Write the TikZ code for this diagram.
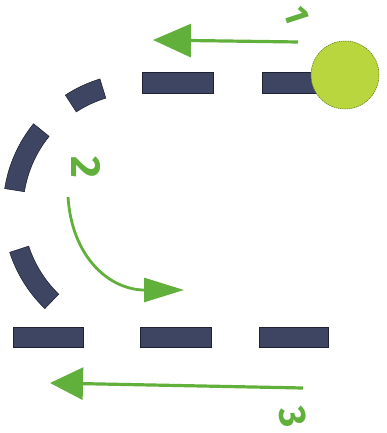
\documentclass[tikz,border=0pt]{standalone}
\usepackage{fontspec}
\setsansfont{Fira Sans}
\usetikzlibrary{arrows.meta}
\definecolor{track}{HTML}{3E4563}
\definecolor{trackedge}{HTML}{1E2233}
\definecolor{pen}{HTML}{62B03C}
\definecolor{ballfill}{HTML}{B9D63E}
\definecolor{balledge}{HTML}{5E7A1E}
\begin{document}
\begin{tikzpicture}[x=0.05cm,y=0.05cm,
  dashbar/.style={fill=track,draw=trackedge,line width=0.8pt},
  penarrow/.style={draw=pen,line width=0.16cm},
  numlabel/.style={text=pen,font=\sffamily\bfseries\fontsize{60}{60}\selectfont,inner sep=0pt}]
\useasboundingbox (0,0) rectangle (386,433);
% straight track pieces
\path[dashbar] (142,340) rectangle (213,361);
\path[dashbar] (262,340) rectangle (330,361);
\path[dashbar] (13,86) rectangle (83,106);
\path[dashbar] (140,86) rectangle (211,106);
\path[dashbar] (259,86) rectangle (328,106);
% curved track pieces
\begin{scope}[shift={(140,223)}]
  \foreach \a/\b in {107/123,141/171,198/226}{
    \path[dashbar] (\a:137) arc[start angle=\a,end angle=\b,radius=137]
      -- (\b:117) arc[start angle=\b,end angle=\a,radius=117] -- cycle;
  }
\end{scope}
% ball
\node (ball) at (345,358) [circle,fill=ballfill,draw=balledge,line width=0.8pt,
  dash pattern=on 2pt off 1.2pt,minimum size=3.4cm,inner sep=0pt] {};
% arrows
\coordinate (t1s) at (298,391);
\coordinate (t1e) at (153,393);
\draw[penarrow,-{Triangle[length=1.9cm,width=1.65cm]}] (t1s) -- (t1e);
\coordinate (t2s) at (68,236);
\coordinate (t2e) at (184,143);
\draw[penarrow,line width=0.14cm,-{Triangle[length=2cm,width=1.2cm]}]
  (t2s) .. controls (72,175) and (110,143) .. (t2e);
\coordinate (t3s) at (303,45);
\coordinate (t3e) at (50,50);
\draw[penarrow,-{Triangle[length=1.65cm,width=1.6cm]}] (t3s) -- (t3e);
% labels
\node[numlabel,rotate=-72,font=\sffamily\bfseries\fontsize{48}{48}\selectfont] (n1) at (297,418) {1};
\node[numlabel,rotate=-90] (n2) at (86,266) {2};
\node[numlabel,rotate=-80,font=\sffamily\bfseries\fontsize{54}{54}\selectfont] (n3) at (293,16) {3};
\end{tikzpicture}
\end{document}
